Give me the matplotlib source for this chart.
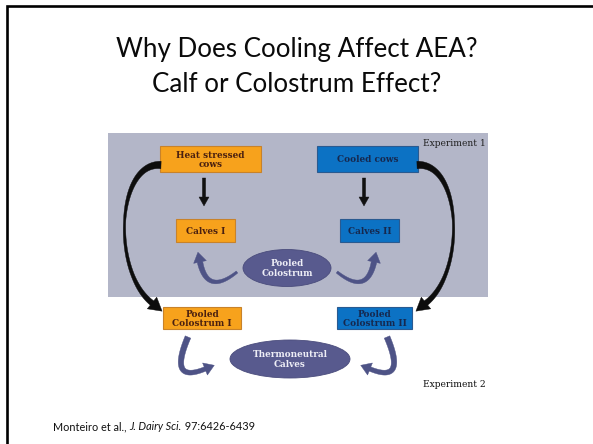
import matplotlib
matplotlib.use("Agg")
import numpy as np
import matplotlib.pyplot as plt
from matplotlib.patches import Rectangle, Ellipse, Polygon

# ---- content ----
title_lines = ["Why Does Cooling Affect AEA?", "Calf or Colostrum Effect?"]
box_labels = ["Heat stressed\ncows", "Cooled cows", "Calves I", "Calves II",
              "Pooled\nColostrum I", "Pooled\nColostrum II"]
box_kinds = ["heat", "cool", "heat", "cool", "heat", "cool"]
ellipse_labels = ["Pooled\nColostrum", "Thermoneutral\nCalves"]
experiment_labels = ["Experiment 1", "Experiment 2"]
citation_parts = ["Monteiro et al., ", "J. Dairy Sci.", " 97:6426-6439"]
citation_styles = ["normal", "italic", "normal"]

W, H = 593, 444
fig = plt.figure(figsize=(W / 100, H / 100), dpi=100)
ax = fig.add_axes([0, 0, 1, 1])
ax.set_xlim(0, W)
ax.set_ylim(H, 0)
ax.axis("off")

# slide frame
ax.plot([6.5, 6.5, W + 5], [H + 5, 6.5, 6.5], color="black", lw=1.9,
        solid_joinstyle="miter")

# title
title_font = "Lato"
ax.text(297, 57, title_lines[0], ha="center", va="baseline", fontsize=18.7,
        family=title_font, color="#0a0a0a")
ax.text(297, 92, title_lines[1], ha="center", va="baseline", fontsize=18.7,
        family=title_font, color="#0a0a0a")

# gray panel (experiment 1)
ax.add_patch(Rectangle((108, 133), 380, 164, facecolor="#b3b6c8",
                       edgecolor="none", zorder=1))

colors = {"heat": ("#f7a21c", "#c8822a", "#4a2010"),
          "cool": ("#0c72c4", "#2a5a90", "#16284e")}
box_rects = [(160, 146, 101, 26), (317, 146, 101, 26),
             (176, 219, 59, 23), (340, 219, 59, 23),
             (163, 307, 78, 22), (337, 307, 75, 22)]
lab_font = "DejaVu Serif"
for lab, kind, (x, y, w, h) in zip(box_labels, box_kinds, box_rects):
    fc, ec, tc = colors[kind]
    ax.add_patch(Rectangle((x, y), w, h, facecolor=fc, edgecolor=ec,
                           lw=0.8, zorder=3))
    ax.text(x + w / 2, y + h / 2 + 0.5, lab, ha="center", va="center",
            fontsize=6.4, family=lab_font, fontweight="bold",
            color=tc, linespacing=1.0, zorder=4)

# ellipses
ell_geo = [(287, 268, 88, 37), (290, 359, 120, 38)]
for lab, (cx, cy, w, h) in zip(ellipse_labels, ell_geo):
    ax.add_patch(Ellipse((cx, cy), w, h, facecolor="#585a8e",
                         edgecolor="#4a4c7c", lw=0.6, zorder=3))
    ax.text(cx, cy + 0.5, lab, ha="center", va="center", fontsize=6.3,
            family=lab_font, fontweight="bold", color="#eeeef6",
            linespacing=1.05, zorder=4)

# experiment labels
ax.text(486, 143, experiment_labels[0], ha="right", va="center",
        fontsize=6.6, family=lab_font, color="#222222", zorder=4)
ax.text(486, 384, experiment_labels[1], ha="right", va="center",
        fontsize=6.6, family=lab_font, color="#111111", zorder=4)


def bez(pts, t):
    pts = np.asarray(pts, float)
    t = np.atleast_1d(t)[:, None]
    p = [pts[i][None, :].repeat(len(t), 0) for i in range(len(pts))]
    while len(p) > 1:
        p = [(1 - t) * p[i] + t * p[i + 1] for i in range(len(p) - 1)]
    return p[0]


def tapered_arrow(pts, kt, kw, head_len, head_w, color, z=5):
    ts = np.linspace(0, 1, 80)
    c = bez(pts, ts)
    d = np.gradient(c, axis=0)
    d /= np.linalg.norm(d, axis=1)[:, None]
    n = np.column_stack([-d[:, 1], d[:, 0]])
    w = np.interp(ts, kt, kw)[:, None] / 2
    left = c + n * w
    right = c - n * w
    tip = c[-1] + d[-1] * head_len
    bl = c[-1] + n[-1] * head_w / 2
    br = c[-1] - n[-1] * head_w / 2
    poly = np.vstack([left, bl, tip, br, right[::-1]])
    ax.add_patch(Polygon(poly, closed=True, facecolor=color, edgecolor=color,
                         lw=0.3, zorder=z))


# straight down arrows
for x in (204, 364):
    tapered_arrow([(x, 178), (x, 197)], [0, 1], [3.2, 3.2], 9, 10, "#111111")

# big black curved arrows
kt, kw = [0, 0.15, 0.5, 0.8, 1], [7.5, 5.5, 2.2, 3.5, 5.5]
tapered_arrow([(161, 165), (116, 162), (112, 272), (152, 303)], kt, kw,
              13, 15, "#0d0d0d")
tapered_arrow([(417, 165), (462, 162), (466, 272), (426, 303)], kt, kw,
              13, 15, "#0d0d0d")

# blue curved arrows
blue = "#4e5386"
kt2, kw2 = [0, 1], [2.5, 5.5]
tapered_arrow([(237, 272), (207, 296), (200, 262)], kt2, kw2, 10, 13, blue)
tapered_arrow([(337, 272), (367, 296), (374, 262)], kt2, kw2, 10, 13, blue)
kt3, kw3 = [0, 1], [6, 4.5]
tapered_arrow([(188, 337), (168, 384), (205, 369)], kt3, kw3, 10, 13, blue)
tapered_arrow([(387, 337), (407, 384), (370, 369)], kt3, kw3, 10, 13, blue)

# citation
cite_font = "Lato"
prev = ax.text(53, 430, citation_parts[0], ha="left", va="baseline",
               fontsize=7.85, family=cite_font, color="#111111")
for part, sty in zip(citation_parts[1:], citation_styles[1:]):
    prev = ax.annotate(part, xy=(1, 0), xycoords=prev, ha="left",
                       va="bottom", fontsize=7.85, family=cite_font,
                       style=sty, color="#111111")

fig.savefig("out.png", dpi=100, facecolor="white")
